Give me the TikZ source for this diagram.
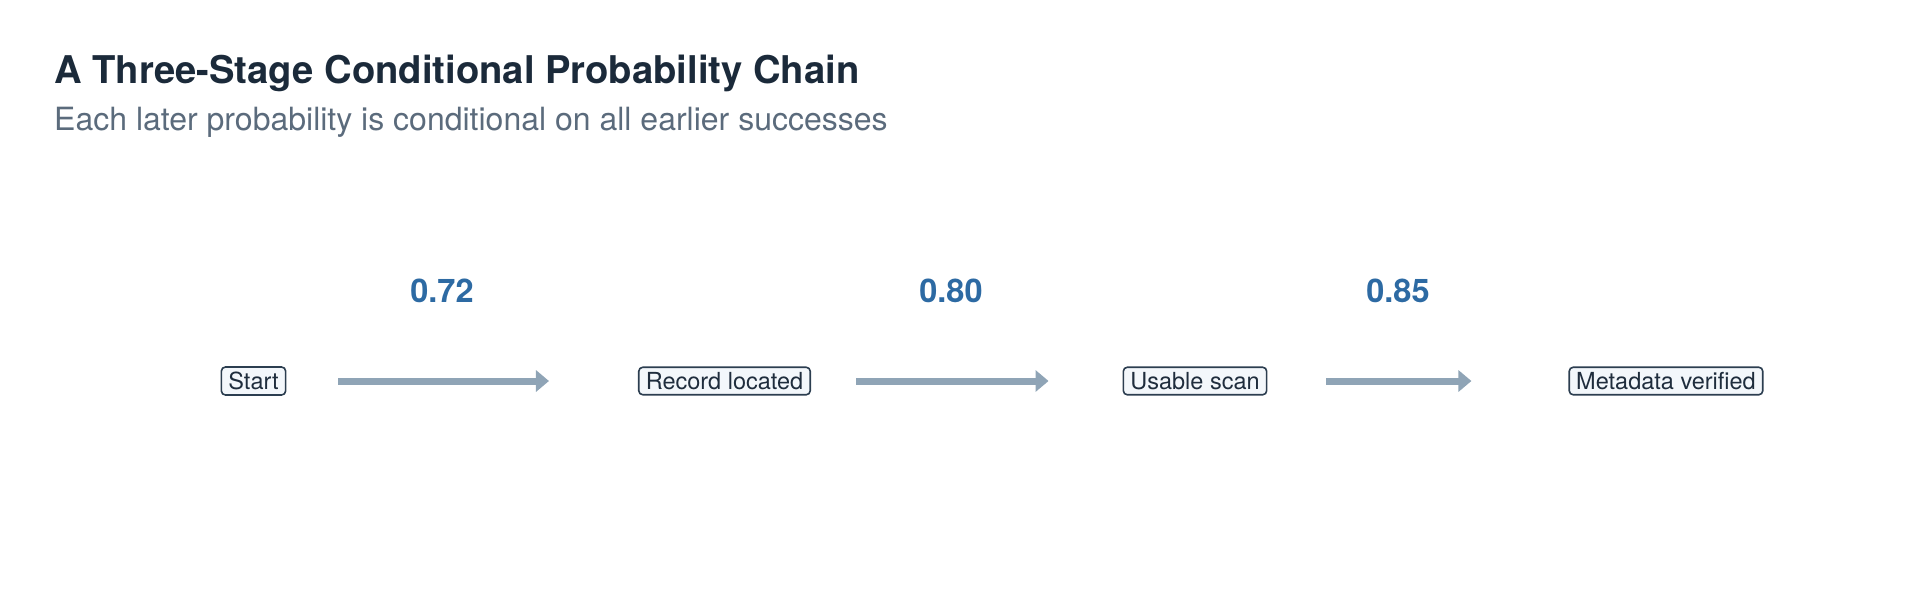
\documentclass[tikz,border=0pt]{standalone}
\usepackage{fontspec}
\setmainfont{TeX Gyre Heros}
\usetikzlibrary{arrows.meta}
\definecolor{titlecol}{HTML}{1B2A3A}
\definecolor{subcol}{HTML}{5B6B7C}
\definecolor{probcol}{HTML}{2D6AA3}
\definecolor{arrowcol}{HTML}{8FA4B6}
\definecolor{boxline}{HTML}{2C3E50}
\definecolor{boxfill}{HTML}{F3F7FB}
\definecolor{boxtext}{HTML}{1F2D3D}
\tikzset{
  stage/.style={draw=boxline, fill=boxfill, text=boxtext, line width=1.6pt,
    rounded corners=4pt, inner xsep=7pt, inner ysep=5pt,
    font=\fontsize{23.5}{26}\selectfont},
  prob/.style={text=probcol, font=\fontsize{32.5}{36}\selectfont\bfseries},
  flow/.style={draw=arrowcol, line width=7pt,
    -{Triangle[length=13pt,width=21pt]}},
}
\begin{document}
\begin{tikzpicture}[x=1pt,y=-1pt]
\useasboundingbox (0,0) rectangle (1920,614);
\node[anchor=base west, inner sep=0pt, text=titlecol,
  font=\fontsize{38.2}{42}\selectfont\bfseries] (title) at (54,83)
  {A Three-Stage Conditional Probability Chain};
\node[anchor=base west, inner sep=0pt, text=subcol,
  font=\fontsize{32}{36}\selectfont] (subtitle) at (54,130)
  {Each later probability is conditional on all earlier successes};

\node[stage] (s0) at (253.5,381) {Start};
\node[stage] (s1) at (724.5,381) {Record located};
\node[stage] (s2) at (1195,381) {Usable scan};
\node[stage] (s3) at (1666,381) {Metadata verified};

\node[prob] (p1) at (442,291) {0.72};
\node[prob] (p2) at (951,291) {0.80};
\node[prob] (p3) at (1398,291) {0.85};

\draw[flow, shorten <=52pt, shorten >=89pt] (s0.east) -- (s1.west);
\draw[flow, shorten <=45pt, shorten >=74pt] (s1.east) -- (s2.west);
\draw[flow, shorten <=59pt, shorten >=97pt] (s2.east) -- (s3.west);
\end{tikzpicture}
\end{document}
